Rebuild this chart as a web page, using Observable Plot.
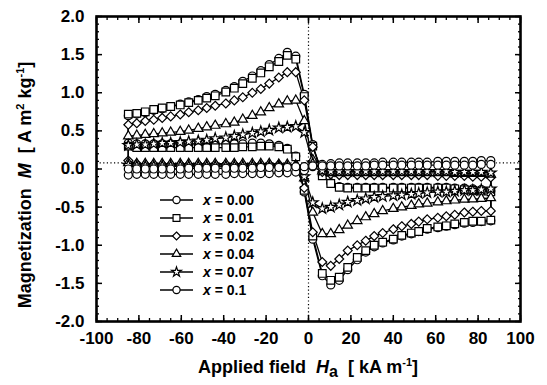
<!DOCTYPE html>
<html><head><meta charset="utf-8">
<script src="https://cdn.jsdelivr.net/npm/d3@7"></script>
<script src="https://cdn.jsdelivr.net/npm/@observablehq/plot@0.6"></script>
<style>body{margin:0;background:#fff;} #chart{position:relative;width:547px;height:385px;}</style>
</head><body><div id="chart"></div>
<script>
// Applied field grid (kA/m), shared by every sweep
const H = [-85,-81,-77,-73,-69,-65,-60.5,-56.5,-52,-48,-44,-39,-35,-31,-26.5,-22.5,-18.5,-14,-10,-6,-2,2,6.5,10.5,14.5,18.5,23,27,31,35,40,44,48.5,52,56,61,65,69,73.5,77.5,81.5,86];

// Magnetization (A m2 kg-1); "down" = field decreasing sweep, "up" = field increasing sweep, both listed in H order
const x000_down = [0.70,0.72,0.74,0.77,0.79,0.82,0.85,0.88,0.91,0.95,0.98,1.03,1.08,1.15,1.22,1.29,1.37,1.45,1.53,1.48, 0.98,0.32, -0.08,-0.18,-0.23,-0.24,-0.24,-0.24,-0.24,-0.24,-0.24,-0.24,-0.24,-0.24,-0.24,-0.24,-0.24,-0.25,-0.25,-0.26,-0.27,-0.29];
const x000_up   = [0.34,0.33,0.33,0.33,0.33,0.33,0.33,0.33,0.33,0.33,0.33,0.33,0.33,0.33,0.34,0.34,0.33,0.31,0.27,0.17, -0.30,-0.92, -1.40,-1.52,-1.46,-1.32,-1.19,-1.09,-1.02,-0.97,-0.93,-0.88,-0.85,-0.82,-0.79,-0.77,-0.75,-0.73,-0.71,-0.70,-0.69,-0.68];

const x001_down = [0.72,0.73,0.75,0.78,0.80,0.82,0.84,0.87,0.90,0.93,0.96,1.01,1.06,1.12,1.19,1.26,1.34,1.41,1.49,1.44, 0.95,0.30, -0.09,-0.19,-0.24,-0.25,-0.25,-0.25,-0.25,-0.25,-0.25,-0.25,-0.25,-0.25,-0.25,-0.25,-0.25,-0.26,-0.27,-0.28,-0.29,-0.30];
const x001_up   = [0.30,0.28,0.28,0.28,0.28,0.28,0.28,0.28,0.28,0.28,0.28,0.28,0.28,0.29,0.29,0.30,0.30,0.29,0.26,0.16, -0.28,-0.88, -1.37,-1.46,-1.42,-1.29,-1.16,-1.07,-1.00,-0.96,-0.92,-0.87,-0.84,-0.82,-0.78,-0.76,-0.745,-0.72,-0.70,-0.685,-0.685,-0.67];

const x002_down = [0.58,0.60,0.63,0.645,0.67,0.69,0.715,0.745,0.77,0.80,0.83,0.86,0.90,0.94,1.00,1.05,1.12,1.20,1.27,1.27, 0.90,0.29, -0.04,-0.07,-0.08,-0.08,-0.08,-0.08,-0.08,-0.08,-0.08,-0.08,-0.08,-0.08,-0.08,-0.09,-0.09,-0.09,-0.09,-0.10,-0.10,-0.11];
const x002_up   = [0.11,0.07,0.06,0.06,0.06,0.06,0.06,0.06,0.06,0.06,0.06,0.06,0.06,0.06,0.06,0.06,0.06,0.06,0.05,0.04, -0.25,-0.83, -1.22,-1.27,-1.18,-1.07,-1.00,-0.94,-0.88,-0.84,-0.79,-0.75,-0.72,-0.69,-0.66,-0.64,-0.62,-0.60,-0.57,-0.56,-0.55,-0.55];

const x004_down = [0.43,0.44,0.45,0.46,0.47,0.48,0.49,0.505,0.53,0.55,0.57,0.59,0.61,0.65,0.70,0.745,0.80,0.85,0.89,0.90, 0.63,0.12, -0.03,-0.05,-0.05,-0.05,-0.05,-0.05,-0.05,-0.05,-0.05,-0.05,-0.05,-0.05,-0.05,-0.05,-0.05,-0.06,-0.06,-0.06,-0.06,-0.07];
const x004_up   = [0.08,0.07,0.07,0.07,0.07,0.07,0.07,0.07,0.07,0.07,0.07,0.07,0.07,0.07,0.07,0.07,0.07,0.06,0.06,0.05, -0.12,-0.57, -0.85,-0.85,-0.80,-0.74,-0.68,-0.63,-0.59,-0.55,-0.52,-0.50,-0.48,-0.46,-0.45,-0.435,-0.42,-0.41,-0.40,-0.395,-0.39,-0.38];

const x007_down = [0.31,0.32,0.32,0.33,0.34,0.34,0.35,0.36,0.37,0.38,0.40,0.41,0.43,0.45,0.47,0.49,0.51,0.54,0.55,0.56, 0.48,0.08, -0.02,-0.03,-0.03,-0.03,-0.03,-0.03,-0.03,-0.03,-0.03,-0.03,-0.03,-0.03,-0.03,-0.03,-0.03,-0.04,-0.04,-0.04,-0.04,-0.05];
const x007_up   = [0.05,0.04,0.04,0.04,0.04,0.04,0.04,0.04,0.04,0.04,0.04,0.04,0.04,0.04,0.04,0.04,0.04,0.04,0.03,0.03, -0.10,-0.44, -0.52,-0.50,-0.47,-0.435,-0.41,-0.39,-0.37,-0.36,-0.35,-0.34,-0.33,-0.32,-0.31,-0.30,-0.30,-0.29,-0.28,-0.28,-0.27,-0.26];

const x01_down  = [0.00,0.00,0.00,0.00,0.00,0.00,0.00,0.01,0.01,0.01,0.01,0.01,0.01,0.01,0.01,0.02,0.02,0.02,0.02,0.03, 0.03,0.04, 0.04,0.04,0.04,0.04,0.04,0.04,0.05,0.05,0.05,0.05,0.05,0.05,0.05,0.05,0.05,0.05,0.05,0.05,0.06,0.06];
const x01_up    = [-0.08,-0.07,-0.07,-0.07,-0.07,-0.07,-0.07,-0.07,-0.07,-0.07,-0.07,-0.07,-0.06,-0.06,-0.06,-0.06,-0.06,-0.05,-0.05,-0.04, -0.02,0.03, 0.06,0.07,0.08,0.08,0.08,0.08,0.08,0.09,0.09,0.09,0.09,0.09,0.09,0.10,0.10,0.10,0.10,0.10,0.11,0.11];

const seriesLabels = ["0.00","0.01","0.02","0.04","0.07","0.1"];
const seriesSymbols = ["circle","square","diamond2","triangle","star","circle"];
const seriesDown = [x000_down,x001_down,x002_down,x004_down,x007_down,x01_down];
const seriesUp = [x000_up,x001_up,x002_up,x004_up,x007_up,x01_up];

const xMajor = [-100,-80,-60,-40,-20,0,20,40,60,80,100];
const yMajor = [-2.0,-1.5,-1.0,-0.5,0.0,0.5,1.0,1.5,2.0];
const xMinor = d3.range(-100, 100.01, 5);
const yMinor = d3.range(-20, 20.5, 1).map(d => d / 10);
const guideM = 0.08;

// closed loop per series: increasing sweep, then decreasing sweep back
const loops = seriesLabels.map((s, k) => {
  const pts = [];
  H.forEach((h, i) => pts.push({s, H: h, M: seriesUp[k][i]}));
  for (let i = H.length - 1; i >= 0; i--) pts.push({s, H: H[i], M: seriesDown[k][i]});
  pts.push({...pts[0]});
  return pts;
});

const symR = {circle: 4, square: 4.3, diamond2: 4, triangle: 3.5, star: 3.4};
const marks = [
  Plot.ruleX([0], {stroke: "black", strokeWidth: 1.2, strokeDasharray: "1.2,2.4"}),
  Plot.ruleY([guideM], {stroke: "black", strokeWidth: 1.2, strokeDasharray: "1.2,2.4"})
];
loops.forEach((pts, k) => {
  marks.push(Plot.line(pts, {x: "H", y: "M", stroke: "black", strokeWidth: 1.3, curve: "linear"}));
});
loops.forEach((pts, k) => {
  marks.push(Plot.dot(pts.slice(0, -1), {x: "H", y: "M", symbol: seriesSymbols[k], r: symR[seriesSymbols[k]], fill: "white", stroke: "black", strokeWidth: 1.2}));
});
const tickAxis = (fn, anchor, ticks, size, w) => fn({anchor, ticks, tickSize: -size, tickFormat: () => "", label: null, strokeWidth: w});
marks.push(
  tickAxis(Plot.axisX, "bottom", xMinor, 3, 1.3),
  tickAxis(Plot.axisX, "top", xMinor, 3, 1.3),
  tickAxis(Plot.axisX, "bottom", xMajor, 6, 1.5),
  tickAxis(Plot.axisX, "top", xMajor, 6, 1.5),
  tickAxis(Plot.axisY, "left", yMinor, 3, 1.3),
  tickAxis(Plot.axisY, "right", yMinor, 3, 1.3),
  tickAxis(Plot.axisY, "left", yMajor, 6, 1.5),
  tickAxis(Plot.axisY, "right", yMajor, 6, 1.5),
  Plot.axisX({anchor: "bottom", ticks: xMajor, tickSize: 0, tickPadding: 10, tickFormat: d => String(d), label: null, fontSize: 17, fontWeight: "bold"}),
  Plot.axisY({anchor: "left", ticks: yMajor, tickSize: 0, tickPadding: 12, tickFormat: d => d.toFixed(1), label: null, fontSize: 17, fontWeight: "bold"}),
  Plot.frame({stroke: "black", strokeWidth: 2.6})
);

const chart = Plot.plot({
  width: 547, height: 385,
  marginLeft: 96, marginRight: 27, marginTop: 16, marginBottom: 64,
  x: {domain: [-100, 100], label: null},
  y: {domain: [-2, 2], label: null},
  style: {fontFamily: "'Liberation Sans', Arial, sans-serif", fontWeight: "bold", color: "black", background: "white"},
  marks
});
document.getElementById("chart").appendChild(chart);

const svg = d3.select(chart);
const font = "'Liberation Sans', Arial, sans-serif";
// x-axis title
const xt = svg.append("text").attr("x", 308).attr("y", 373).attr("text-anchor", "middle")
  .attr("font-family", font).attr("font-weight", "bold").attr("font-size", 18).attr("fill", "black");
xt.append("tspan").text("Applied field  ");
xt.append("tspan").attr("font-style", "italic").text("H");
xt.append("tspan").attr("dy", 4).attr("font-size", 16).text("a");
xt.append("tspan").attr("dy", -4).text("  [ kA m");
xt.append("tspan").attr("dy", -7).attr("font-size", 11).text("-1");
xt.append("tspan").attr("dy", 7).text("]");
// y-axis title
const yt = svg.append("text").attr("transform", "translate(31,185) rotate(-90)").attr("text-anchor", "middle")
  .attr("font-family", font).attr("font-weight", "bold").attr("font-size", 18).attr("fill", "black");
yt.append("tspan").text("Magnetization  ");
yt.append("tspan").attr("font-style", "italic").text("M");
yt.append("tspan").text("  [ A m");
yt.append("tspan").attr("dy", -7).attr("font-size", 11).text("2");
yt.append("tspan").attr("dy", 7).text(" kg");
yt.append("tspan").attr("dy", -7).attr("font-size", 11).text("-1");
yt.append("tspan").attr("dy", 7).text("]");

// legend
const symMap = {circle: d3.symbolCircle, square: d3.symbolSquare, diamond2: d3.symbolDiamond2, triangle: d3.symbolTriangle, star: d3.symbolStar};
const lg = svg.append("g").attr("transform", "translate(160,200)");
seriesLabels.forEach((s, i) => {
  const g = lg.append("g").attr("transform", `translate(0,${i * 18})`);
  const rr = symR[seriesSymbols[i]] * 0.9;
  g.append("line").attr("x1", 0).attr("x2", 33).attr("y1", 0).attr("y2", 0).attr("stroke", "black").attr("stroke-width", 1.3);
  g.append("path").attr("transform", "translate(16.5,0)").attr("d", d3.symbol(symMap[seriesSymbols[i]], Math.PI * rr * rr)())
    .attr("fill", "white").attr("stroke", "black").attr("stroke-width", 1.2);
  const t = g.append("text").attr("x", 43).attr("y", 5).attr("text-anchor", "start").attr("font-family", font).attr("font-weight", "bold").attr("font-size", 14).attr("fill", "black");
  t.append("tspan").attr("font-style", "italic").text("x");
  t.append("tspan").text(" = " + s);
});
</script></body></html>
